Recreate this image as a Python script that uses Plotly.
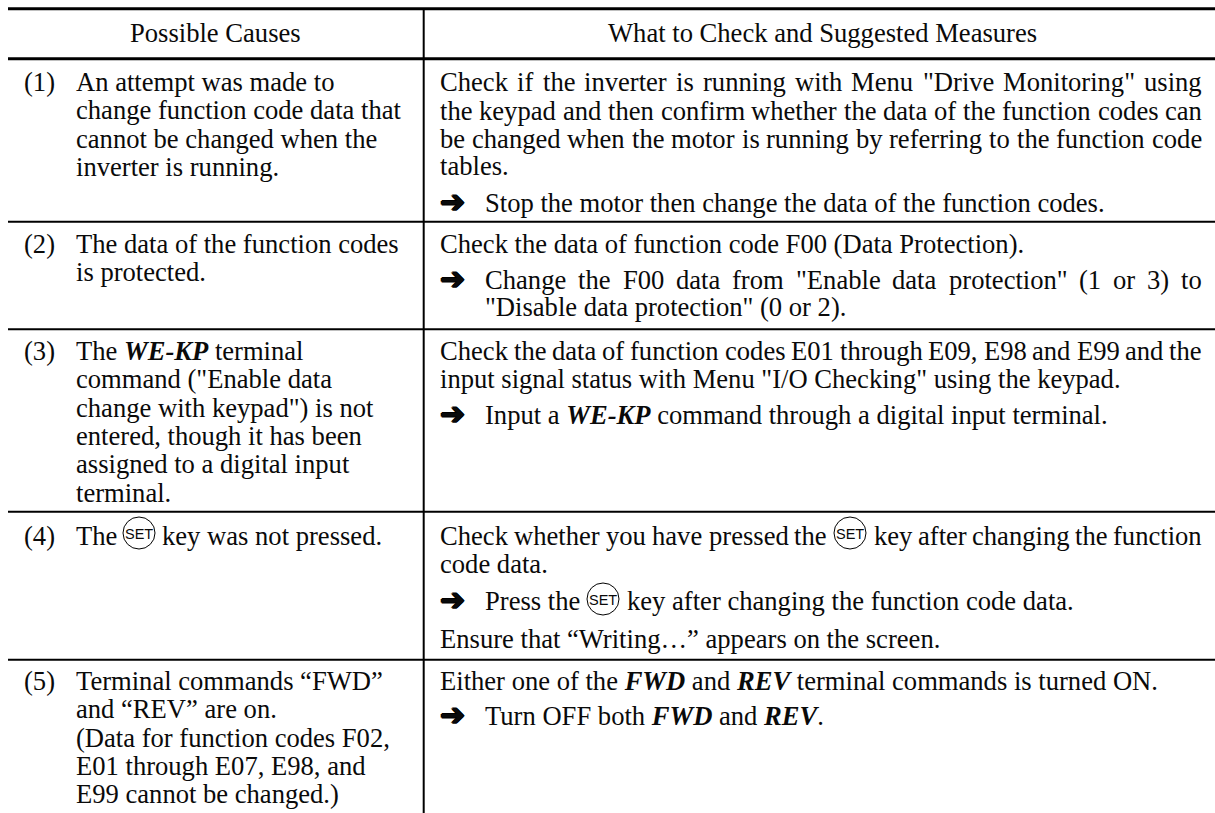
import plotly.graph_objects as go

# ---- table content ----
HEADERS = ["Possible Causes", "What to Check and Suggested Measures"]
NUMBERS = ["(1)", "(2)", "(3)", "(4)", "(5)"]
CAUSES = [
    ["An attempt was made to", "change function code data that", "cannot be changed when the", "inverter is running."],
    ["The data of the function codes", "is protected."],
    ["The <b><i>WE-KP</i></b> terminal", 'command ("Enable data', 'change with keypad") is not', "entered, though it has been", "assigned to a digital input", "terminal."],
    ["The"],
    ["Terminal commands \u201cFWD\u201d", "and \u201cREV\u201d are on.", "(Data for function codes F02,", "E01 through E07, E98, and", "E99 cannot be changed.)"],
]
CAUSE4_TAIL = "key was not pressed."
JUSTIFIED = [
    'Check if the inverter is running with Menu "Drive Monitoring" using',
    "the keypad and then confirm whether the data of the function codes can",
    "be changed when the motor is running by referring to the function code",
    "Check the data of function code F00 (Data Protection).",
    'Change the F00 data from "Enable data protection" (1 or 3) to',
    "Check the data of function codes E01 through E09, E98 and E99 and the",
    "Check whether you have pressed the",
    "key after changing the function",
]
PLAIN = [
    "tables.",
    'input signal status with Menu "I/O Checking" using the keypad.',
    "code data.",
    "Ensure that \u201cWriting\u2026\u201d appears on the screen.",
    "Either one of the <b><i>FWD</i></b> and <b><i>REV</i></b> terminal commands is turned ON.",
]
ARROWED = [
    "Stop the motor then change the data of the function codes.",
    '"Disable data protection" (0 or 2).',
    "Input a <b><i>WE-KP</i></b> command through a digital input terminal.",
    "Press the",
    "key after changing the function code data.",
    "Turn OFF both <b><i>FWD</i></b> and <b><i>REV</i></b>.",
]
KEY_LABEL = "SET"
ARROW = "\u2794"

# ---- layout constants ----
W, H = 1215, 813
FS = 26.6
FONT = "Liberation Serif"
LH = 28.3
DY = -1
X0, XV, XR = 8, 423.7, 1215
XNUM, XCAUSE, XM, XARROW, XMT, XEND = 24, 75.5, 440, 440, 485, 1202
THICK_Y = [8.7, 58.7]
THIN_Y = [221.7, 329.3, 511.8, 659.8]
CAUSE_Y = [83, 245, 352, 537, 682]

AFM = dict(zip(
    " !\"#$%&'()*+,-./0123456789:;<=>?@ABCDEFGHIJKLMNOPQRSTUVWXYZ",
    [250,333,408,500,500,833,778,180,333,333,500,564,250,333,250,278]+[500]*10+
    [278,278,564,564,564,444,921,722,667,667,722,611,556,722,722,333,389,722,611,889,722,722,556,722,667,556,611,722,722,944,722,722,611]))
AFM.update(dict(zip("abcdefghijklmnopqrstuvwxyz",
    [444,500,444,500,444,333,500,500,278,278,500,278,778,500,500,500,500,333,389,278,500,500,722,500,500,444])))

def tw(s):
    return sum(AFM.get(c, 500) for c in s) * FS / 1000

fig = go.Figure()
hline = lambda ys: ([v for y in ys for v in (X0, XR, None)], [v for y in ys for v in (y, y, None)])
for ys, w in ((THICK_Y, 3), (THIN_Y, 2)):
    x, y = hline(ys)
    fig.add_trace(go.Scatter(x=x, y=y, mode="lines", line=dict(color="black", width=w), hoverinfo="skip", showlegend=False))
fig.add_trace(go.Scatter(x=[XV, XV], y=[THICK_Y[0], H], mode="lines", line=dict(color="black", width=2), hoverinfo="skip", showlegend=False))

ann = []
def put(x, y, text, anchor="left", size=FS, family=FONT, shadow=None):
    font = dict(family=family, size=size, color="#0a0a0a")
    if shadow:
        font["shadow"] = shadow
    ann.append(dict(x=x, y=y + DY, text=text, xref="x", yref="y", showarrow=False, xanchor=anchor, yanchor="middle",
                    borderpad=0, borderwidth=0, font=font))

def just(text, xl, xr, y):
    words = text.split(" ")
    gap = (xr - xl - sum(tw(w) for w in words)) / (len(words) - 1)
    x = xl
    for w in words:
        put(x, y, w)
        x += tw(w) + gap

def arrow(y):
    put(XARROW, y - 2, "<b>" + ARROW + "</b>", size=30, family="DejaVu Sans",
        shadow="1px 0 0 #000, -1px 0 0 #000, 0 1px 0 #000, 0 -1px 0 #000")

def key(cx, cy):
    fig.add_shape(type="circle", xref="x", yref="y", x0=cx - 16, x1=cx + 16, y0=cy - 16, y1=cy + 16,
                  line=dict(color="black", width=1))
    put(cx, cy + 2, KEY_LABEL, anchor="center", size=14.5, family="Liberation Sans")

put(215.5, 34, HEADERS[0], "center")
put(822, 34, HEADERS[1], "center")

for n, lines, y0 in zip(NUMBERS, CAUSES, CAUSE_Y):
    put(XNUM, y0, n)
    for i, t in enumerate(lines):
        put(XCAUSE, y0 + i * LH, t)
put(161.5, 537, CAUSE4_TAIL)
key(139, 533)

# measures, row 1
just(JUSTIFIED[0], XM, XEND, 83)
just(JUSTIFIED[1], XM, XEND, 111.5)
just(JUSTIFIED[2], XM, XEND, 139.5)
put(XM, 167, PLAIN[0])
arrow(204); put(XMT, 204, ARROWED[0])
# row 2
put(XM, 245, JUSTIFIED[3])
arrow(281); just(JUSTIFIED[4], XMT, XEND, 281)
put(XMT, 308, ARROWED[1])
# row 3
just(JUSTIFIED[5], XM, XEND, 352)
put(XM, 380, PLAIN[1])
arrow(416); put(XMT, 416, ARROWED[2])
# row 4
just(JUSTIFIED[6], XM, 827, 537)
key(850, 533)
just(JUSTIFIED[7], 873.5, XEND, 537)
put(XM, 565, PLAIN[2])
arrow(602); put(XMT, 602, ARROWED[3])
key(603, 599)
put(626.7, 602, ARROWED[4])
put(XM, 640, PLAIN[3])
# row 5
put(XM, 682, PLAIN[4])
arrow(717); put(XMT, 717, ARROWED[5])

fig.update_layout(
    width=W, height=H, margin=dict(l=0, r=0, t=0, b=0), paper_bgcolor="white", plot_bgcolor="white",
    xaxis=dict(range=[0, W], visible=False, fixedrange=True),
    yaxis=dict(range=[H, 0], visible=False, fixedrange=True),
    annotations=ann, showlegend=False,
)
fig.write_html("out.html", config={"displayModeBar": False},
               post_script="document.body.style.margin='0';document.body.style.overflow='hidden';")
